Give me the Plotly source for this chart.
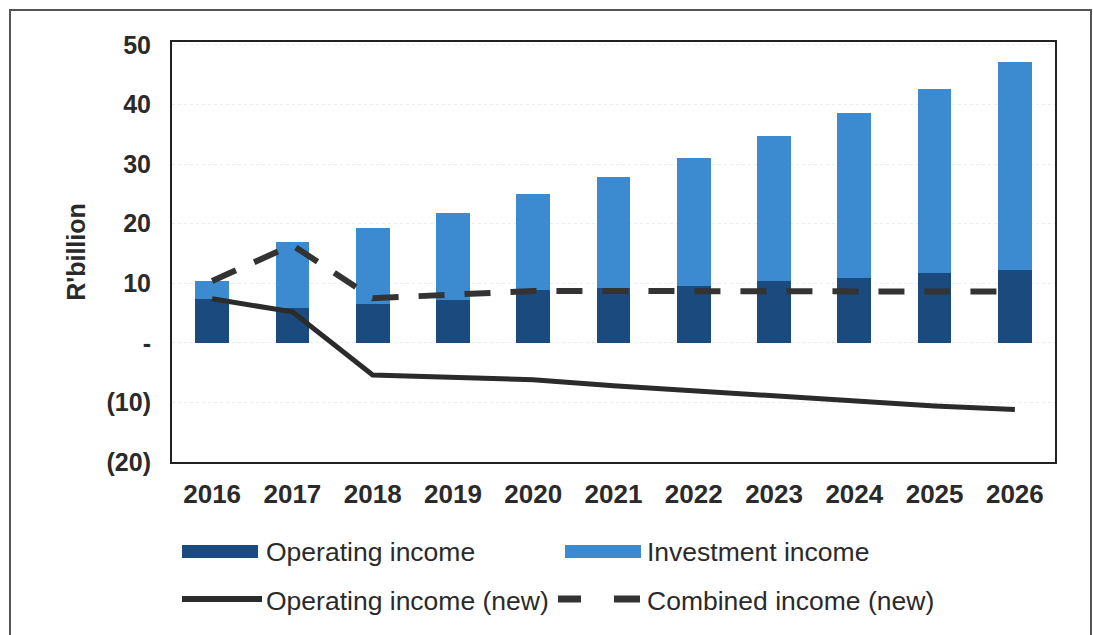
import plotly.graph_objects as go

years = ["2016", "2017", "2018", "2019", "2020", "2021", "2022", "2023", "2024", "2025", "2026"]
operating_income = [7.4, 5.9, 6.5, 7.2, 8.8, 9.2, 9.6, 10.4, 10.9, 11.7, 12.2]
total_income = [10.4, 16.9, 19.3, 21.8, 25.0, 27.9, 31.0, 34.7, 38.6, 42.6, 47.1]
investment_income = [round(t - o, 2) for t, o in zip(total_income, operating_income)]
operating_income_new = [7.4, 5.2, -5.4, -5.9, -6.2, -7.2, -8.1, -8.9, -9.7, -10.6, -11.2]
combined_income_new = [10.4, 16.4, 7.5, 8.2, 8.7, 8.7, 8.7, 8.6, 8.6, 8.6, 8.6]

y_tickvals = [-20, -10, 0, 10, 20, 30, 40, 50]
y_ticktext = ["(20)", "(10)", "-", "10", "20", "30", "40", "50"]

DARK = "#1b4a7f"
LIGHT = "#3c8ad0"
LINE = "#2b2b2b"
FONT = "Liberation Sans, Arial, sans-serif"

W, H = 1093, 635
L, R, T, B = 172, 38, 42, 173
PW, PH = W - L - R, H - T - B


def px(x):
    return (x - L) / PW


def py(y):
    return (H - B - y) / PH


fig = go.Figure()
fig.add_trace(go.Bar(x=years, y=operating_income, name="Operating income",
                     marker=dict(color=DARK, line=dict(width=0)), showlegend=False))
fig.add_trace(go.Bar(x=years, y=investment_income, name="Investment income",
                     marker=dict(color=LIGHT, line=dict(width=0)), showlegend=False))
fig.add_trace(go.Scatter(x=years, y=operating_income_new, name="Operating income (new)",
                         mode="lines", line=dict(color=LINE, width=5), showlegend=False))
fig.add_trace(go.Scatter(x=years, y=combined_income_new, name="Combined income (new)",
                         mode="lines", line=dict(color="#333333", width=6, dash="26px,20px"),
                         showlegend=False))

shapes = []
# outer frame
shapes.append(dict(type="rect", xref="paper", yref="paper",
                   x0=px(10), x1=px(1091), y0=py(700), y1=py(10),
                   line=dict(color="#555555", width=2), fillcolor="rgba(0,0,0,0)", layer="below"))
# legend keys
shapes.append(dict(type="rect", xref="paper", yref="paper",
                   x0=px(182), x1=px(258), y0=py(558), y1=py(545),
                   line=dict(width=0), fillcolor=DARK))
shapes.append(dict(type="rect", xref="paper", yref="paper",
                   x0=px(565), x1=px(641), y0=py(558), y1=py(545),
                   line=dict(width=0), fillcolor=LIGHT))
shapes.append(dict(type="line", xref="paper", yref="paper",
                   x0=px(182), x1=px(262), y0=py(599), y1=py(599),
                   line=dict(color=LINE, width=6)))
shapes.append(dict(type="line", xref="paper", yref="paper",
                   x0=px(558), x1=px(581), y0=py(599), y1=py(599),
                   line=dict(color="#333333", width=7)))
shapes.append(dict(type="line", xref="paper", yref="paper",
                   x0=px(614), x1=px(640), y0=py(599), y1=py(599),
                   line=dict(color="#333333", width=7)))

legend_font = dict(family=FONT, size=26.5, color="#2a2a2a")
annotations = [
    dict(text="Operating income", x=px(264), y=py(552)),
    dict(text="Investment income", x=px(645), y=py(552)),
    dict(text="Operating income (new)", x=px(264), y=py(601)),
    dict(text="Combined income (new)", x=px(645), y=py(601)),
]
annotations = [dict(a, xref="paper", yref="paper", xanchor="left", yanchor="middle",
                    showarrow=False, font=legend_font) for a in annotations]

fig.update_layout(
    width=W, height=H,
    margin=dict(l=L, r=R, t=T, b=B, pad=0),
    paper_bgcolor="white", plot_bgcolor="white",
    barmode="stack", bargap=0.58,
    showlegend=False,
    shapes=shapes, annotations=annotations,
    font=dict(family=FONT, color="#2a2a2a"),
)
fig.update_xaxes(
    type="category", range=[-0.5, 10.5],
    showline=True, mirror=True, linecolor="#222222", linewidth=2,
    showgrid=False, ticks="",
    tickfont=dict(family=FONT, size=26, color="#2a2a2a", weight="bold"),
    ticklabelstandoff=8,
)
fig.update_yaxes(
    range=[-20, 50.5], tickvals=y_tickvals, ticktext=y_ticktext,
    showline=True, mirror=True, linecolor="#222222", linewidth=2,
    showgrid=True, gridcolor="#ececec", griddash="dot", gridwidth=1,
    zeroline=False, ticks="",
    tickfont=dict(family=FONT, size=25, color="#2a2a2a", weight="bold"),
    ticklabelstandoff=14,
    title=dict(text="R'billion", font=dict(family=FONT, size=25, color="#2a2a2a", weight="bold"),
               standoff=14),
)

fig.write_html("out.html", config={"displayModeBar": False},
               post_script="document.body.style.margin='0';")
